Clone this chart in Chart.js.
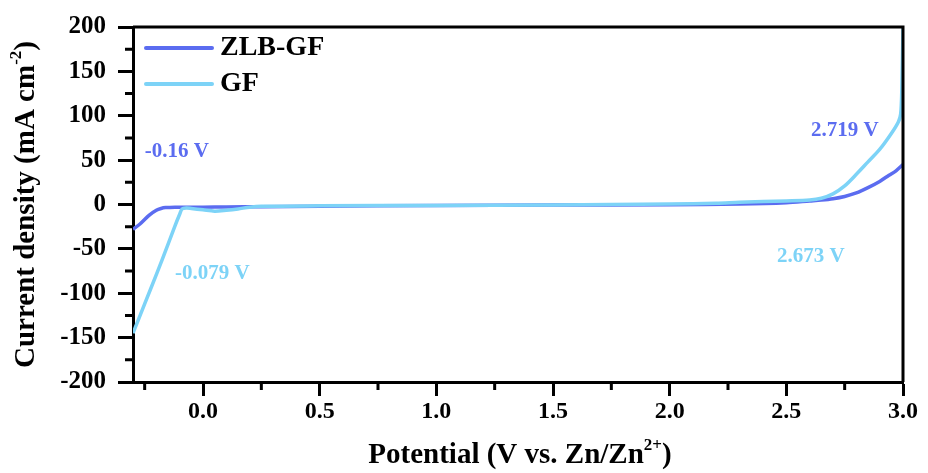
<!DOCTYPE html>
<html>
<head>
<meta charset="utf-8">
<script src="https://cdn.jsdelivr.net/npm/chart.js@4/dist/chart.umd.min.js"></script>
<style>
  html, body { margin: 0; padding: 0; background: #fff; }
  #wrap { width: 928px; height: 473px; }
</style>
</head>
<body>
<div id="wrap"><canvas id="lsv"></canvas></div>
<script>
// LSV curves, values
const zlbPotential = [-0.3, -0.27, -0.23, -0.2, -0.18, -0.16, -0.12, -0.05, 0.0, 0.1, 0.25, 0.5, 1.0, 1.5, 2.0, 2.3, 2.5, 2.6, 2.65, 2.7, 2.75, 2.8, 2.85, 2.9, 2.94, 2.97, 3.0];
const zlbCurrent   = [-28, -22, -12, -6.5, -4.5, -3.5, -3, -3, -3, -2.8, -2.5, -2, -1, -0.5, -0.3, 0.5, 2, 4, 5, 6.5, 9, 13, 19, 26, 33, 38, 45];

const gfPotential = [-0.3, -0.25, -0.2, -0.15, -0.12, -0.1, -0.09, -0.07, -0.05, 0.0, 0.05, 0.1, 0.15, 0.2, 0.25, 0.5, 1.0, 1.5, 2.0, 2.2, 2.3, 2.5, 2.6, 2.65, 2.7, 2.75, 2.8, 2.85, 2.9, 2.95, 2.98, 2.99, 2.995, 3.0];
const gfCurrent   = [-145, -112, -79, -45, -24, -11, -5, -4, -4.5, -6, -7.5, -6.5, -5, -3, -2, -1.5, -1, -0.5, 0.5, 1.5, 2.5, 4, 5, 7, 12, 21, 34, 48, 62, 80, 93, 102, 130, 200];

const seriesNames  = ['ZLB-GF', 'GF'];
const seriesColors = ['#5b6cf0', '#7dd3f7'];

const yTicks = [-200, -150, -100, -50, 0, 50, 100, 150, 200];
const xTicks = [0.0, 0.5, 1.0, 1.5, 2.0, 2.5, 3.0];

// onset potential labels
const notes = [
  { text: '-0.16 V',  x: -0.25, y: 60,    color: seriesColors[0] },
  { text: '-0.079 V', x: -0.12, y: -77.5, color: seriesColors[1] },
  { text: '2.719 V',  x: 2.606, y: 83,    color: seriesColors[0] },
  { text: '2.673 V',  x: 2.46,  y: -58.5, color: seriesColors[1] }
];

const FONT = '"Liberation Serif", "Times New Roman", serif';

function toPoints(xs, ys) {
  return xs.map((x, i) => ({ x: x, y: ys[i] }));
}

const decor = {
  id: 'decor',
  afterDraw(chart) {
    const ctx = chart.ctx;
    const a = chart.chartArea;
    const xs = chart.scales.x, ys = chart.scales.y;
    ctx.save();

    // frame top/right
    ctx.strokeStyle = '#000';
    ctx.lineWidth = 3;
    ctx.beginPath();
    ctx.moveTo(a.left, a.top);
    ctx.lineTo(a.right, a.top);
    ctx.lineTo(a.right, a.bottom);
    ctx.stroke();

    // minor ticks
    ctx.beginPath();
    for (let i = 0; i < yTicks.length - 1; i++) {
      const py = ys.getPixelForValue((yTicks[i] + yTicks[i + 1]) / 2);
      ctx.moveTo(a.left, py);
      ctx.lineTo(a.left - 8, py);
    }
    for (let v = -0.25; v < 3; v += 0.5) {
      const px = xs.getPixelForValue(v);
      ctx.moveTo(px, a.bottom);
      ctx.lineTo(px, a.bottom + 8);
    }
    ctx.stroke();

    // legend
    chart.data.datasets.forEach((ds, i) => {
      const ly = 48 + i * 36;
      ctx.strokeStyle = ds.borderColor;
      ctx.lineWidth = 4;
      ctx.lineCap = 'round';
      ctx.beginPath();
      ctx.moveTo(146, ly);
      ctx.lineTo(212, ly);
      ctx.stroke();
      ctx.fillStyle = '#000';
      ctx.font = 'bold 28px ' + FONT;
      ctx.textAlign = 'left';
      ctx.textBaseline = 'middle';
      ctx.fillText(ds.label, 220, ly);
    });

    // annotations
    ctx.font = 'bold 21px ' + FONT;
    ctx.textAlign = 'left';
    ctx.textBaseline = 'middle';
    notes.forEach(n => {
      ctx.fillStyle = n.color;
      ctx.fillText(n.text, xs.getPixelForValue(n.x), ys.getPixelForValue(n.y));
    });

    // axis titles with superscripts
    ctx.fillStyle = '#000';
    drawSupTitle(ctx, 'Potential (V vs. Zn/Zn', '2+', ')', (a.left + a.right) / 2 + 2, 456, 0);
    drawSupTitle(ctx, 'Current density (mA cm', '-2', ')', 27, (a.top + a.bottom) / 2, -Math.PI / 2);

    ctx.restore();
  }
};

function drawSupTitle(ctx, main, sup, tail, cx, cy, rot) {
  const big = 'bold 29px ' + FONT, small = 'bold 17px ' + FONT;
  ctx.font = big; const w1 = ctx.measureText(main).width; const w3 = ctx.measureText(tail).width;
  ctx.font = small; const w2 = ctx.measureText(sup).width;
  const total = w1 + w2 + w3;
  ctx.save();
  ctx.translate(cx, cy);
  ctx.rotate(rot);
  ctx.textAlign = 'left';
  ctx.textBaseline = 'middle';
  let x = -total / 2;
  ctx.font = big; ctx.fillText(main, x, 0); x += w1;
  ctx.font = small; ctx.fillText(sup, x, -10); x += w2;
  ctx.font = big; ctx.fillText(tail, x, 0);
  ctx.restore();
}

new Chart(document.getElementById('lsv'), {
  type: 'scatter',
  data: {
    datasets: [
      {
        label: seriesNames[0],
        data: toPoints(zlbPotential, zlbCurrent),
        borderColor: seriesColors[0],
        backgroundColor: seriesColors[0],
        showLine: true, pointRadius: 0, borderWidth: 3.5, tension: 0.3, order: 1
      },
      {
        label: seriesNames[1],
        data: toPoints(gfPotential, gfCurrent),
        borderColor: seriesColors[1],
        backgroundColor: seriesColors[1],
        showLine: true, pointRadius: 0, borderWidth: 3.5, tension: 0.3, order: 0
      }
    ]
  },
  options: {
    responsive: true,
    maintainAspectRatio: false,
    animation: false,
    layout: { padding: { top: 26, right: 25, left: 0, bottom: 0 } },
    plugins: { legend: { display: false }, tooltip: { enabled: false } },
    scales: {
      x: {
        type: 'linear', min: -0.3, max: 3.0,
        afterBuildTicks: s => { s.ticks = xTicks.map(v => ({ value: v })); },
        afterFit: s => { s.height = 91; },
        border: { color: '#000', width: 3 },
        grid: { drawOnChartArea: false, tickLength: 14, tickWidth: 3, tickColor: '#000' },
        ticks: { color: '#000', padding: 1, font: { family: FONT, size: 24, weight: 'bold' },
                 callback: v => v.toFixed(1), maxRotation: 0 }
      },
      y: {
        type: 'linear', min: -200, max: 200,
        afterBuildTicks: s => { s.ticks = yTicks.map(v => ({ value: v })); },
        afterFit: s => { s.width = 133; },
        border: { color: '#000', width: 3 },
        grid: { drawOnChartArea: false, tickLength: 15, tickWidth: 3, tickColor: '#000' },
        ticks: { color: '#000', padding: 12, font: { family: FONT, size: 25, weight: 'bold' } }
      }
    }
  },
  plugins: [decor]
});
</script>
</body>
</html>
